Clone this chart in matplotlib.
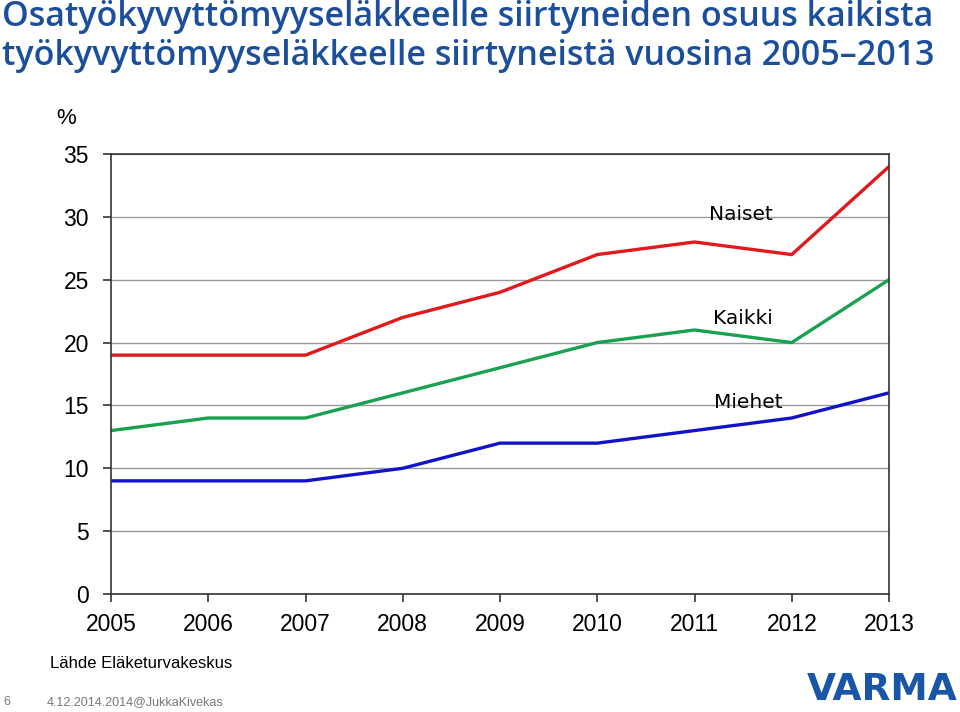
import matplotlib
matplotlib.use("Agg")
import matplotlib.pyplot as plt

years = [2005, 2006, 2007, 2008, 2009, 2010, 2011, 2012, 2013]
naiset = [19, 19, 19, 22, 24, 27, 28, 27, 34]
kaikki = [13, 14, 14, 16, 18, 20, 21, 20, 25]
miehet = [9, 9, 9, 10, 12, 12, 13, 14, 16]
yticks = [0, 5, 10, 15, 20, 25, 30, 35]

title_color = "#1b4f9c"
fig = plt.figure(figsize=(9.6, 7.12), dpi=100)
ax = fig.add_axes([111/960, 1-594/712, (889-111)/960, (594-154)/712])

ax.plot(years, naiset, color="#e0191c", lw=2.4)
ax.plot(years, kaikki, color="#19a050", lw=2.4)
ax.plot(years, miehet, color="#1212c8", lw=2.4)

ax.set_xlim(2005, 2013)
ax.set_ylim(0, 35)
ax.set_yticks(yticks)
ax.set_xticks(years)
ax.grid(axis="y", color="#9a9a9a", lw=1)
ax.set_axisbelow(True)
for s in ax.spines.values():
    s.set_color("#333333")
    s.set_linewidth(1.2)
ax.tick_params(axis="both", length=6, width=1.2, color="#333333", labelsize=16.5)
ax.tick_params(axis="y", pad=10)
ax.tick_params(axis="x", pad=8)
for lab in ax.get_xticklabels() + ax.get_yticklabels():
    lab.set_family("Liberation Sans")

ax.text(2011.48, 30.2, "Naiset", ha="center", va="center", fontsize=14.5, family="DejaVu Sans")
ax.text(2011.5, 21.9, "Kaikki", ha="center", va="center", fontsize=14.5, family="DejaVu Sans")
ax.text(2011.55, 15.2, "Miehet", ha="center", va="center", fontsize=14.5, family="DejaVu Sans")

fig.text(56/960, 1-118/712, "%", fontsize=16, family="Liberation Sans", va="center")

fig.text(2/960, 1-17/712, "Osatyökyvyttömyyseläkkeelle siirtyneiden osuus kaikista",
         fontsize=24.5, color=title_color, family="Open Sans", weight="semibold", va="center")
fig.text(2/960, 1-56/712, "työkyvyttömyyseläkkeelle siirtyneistä vuosina 2005–2013",
         fontsize=24.5, color=title_color, family="Open Sans", weight="semibold", va="center")

fig.text(50/960, 1-663/712, "Lähde Eläketurvakeskus", fontsize=12, family="Liberation Sans", va="center")
fig.text(3/960, 1-702/712, "6", fontsize=9, color="#777777", family="Liberation Sans", va="center")
fig.text(47/960, 1-702/712, "4.12.2014.2014@JukkaKivekas", fontsize=9, color="#777777",
         family="Liberation Sans", va="center")
fig.text(958/960, 1-690/712, "VARMA", fontsize=27, color="#1a56a8", family="DejaVu Sans",
         weight="bold", ha="right", va="center")

fig.savefig("out.png", dpi=100)
